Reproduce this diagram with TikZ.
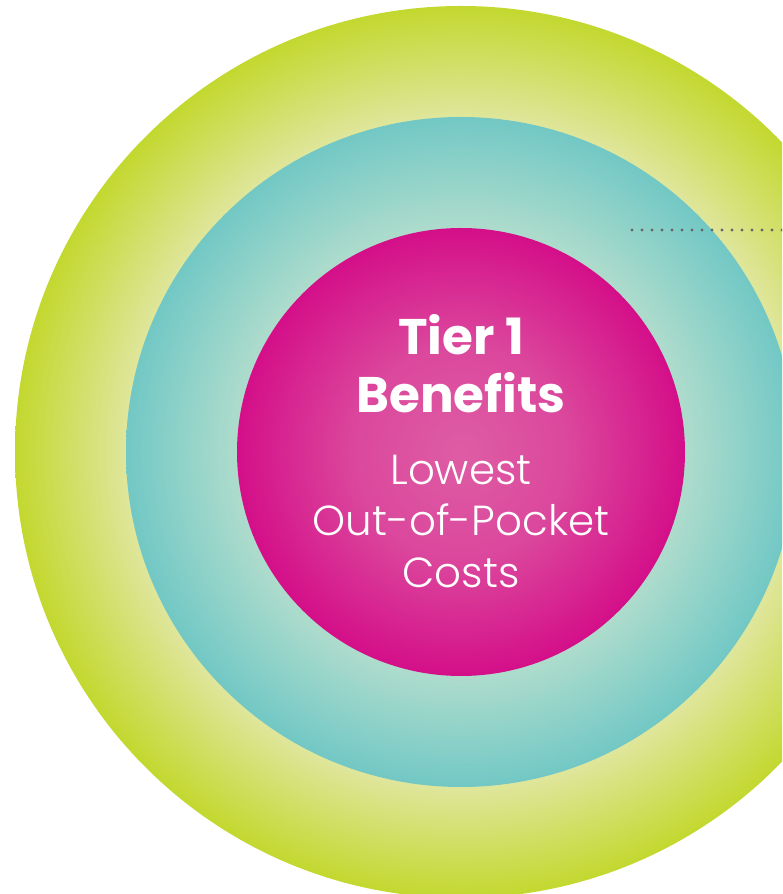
\documentclass[tikz,border=0pt]{standalone}
\usepackage{fontspec}
\setmainfont{Poppins}
\newfontfamily\lightfont{Poppins Light}
\definecolor{gO}{HTML}{C3D82F}
\definecolor{gI}{HTML}{DFE69C}
\definecolor{tO}{HTML}{72C8C5}
\definecolor{tI}{HTML}{AEDCCC}
\definecolor{mO}{HTML}{D40F89}
\definecolor{mI}{HTML}{DE5DA4}
\definecolor{dotgray}{HTML}{666666}
\pgfdeclareradialshading{greenring}{\pgfpoint{0bp}{0bp}}{color(0bp)=(gI); color(18.75bp)=(gI); color(25bp)=(gO); color(50bp)=(gO)}
\pgfdeclareradialshading{tealring}{\pgfpoint{0bp}{0bp}}{color(0bp)=(tI); color(16.7bp)=(tI); color(25bp)=(tO); color(50bp)=(tO)}
\pgfdeclareradialshading{magentadisc}{\pgfpoint{0bp}{0bp}}{color(0bp)=(mI); color(12bp)=(mI!72!mO); color(25bp)=(mO); color(50bp)=(mO)}
\begin{document}
\begin{tikzpicture}[x=1pt,y=1pt,
  ring/.style={circle,inner sep=0pt,outer sep=0pt,draw=none},
  titletext/.style={anchor=base,text=white,inner sep=0pt,font=\bfseries\fontsize{50}{58}\selectfont},
  subtext/.style={anchor=base,text=white,inner sep=0pt,font=\lightfont\fontsize{42}{50}\selectfont},
  dotline/.style={draw=dotgray,line width=3.2pt,line cap=round,dash pattern=on 0pt off 10pt}]
\useasboundingbox (0,0) rectangle (782,894);
\clip (0,0) rectangle (782,894);
\node[ring,minimum size=892pt,shading=greenring] (outer) at (461,442) {};
\node[ring,minimum size=670pt,shading=tealring] (middle) at (461,442) {};
\node[ring,minimum size=448pt,shading=magentadisc] (inner) at (461,442) {};
\coordinate (d1) at (632,664);
\coordinate (d2) at (792,664);
\draw[dotline] (d1) -- (d2);
\node[titletext] (t1) at (461,894-355) {Tier 1};
\node[titletext] (t2) at (461,894-413) {Benefits};
\node[subtext] (s1) at (461,894-485) {Lowest};
\node[subtext] (s2) at (461,894-536) {Out-of-Pocket};
\node[subtext] (s3) at (461,894-588) {Costs};
\end{tikzpicture}
\end{document}
